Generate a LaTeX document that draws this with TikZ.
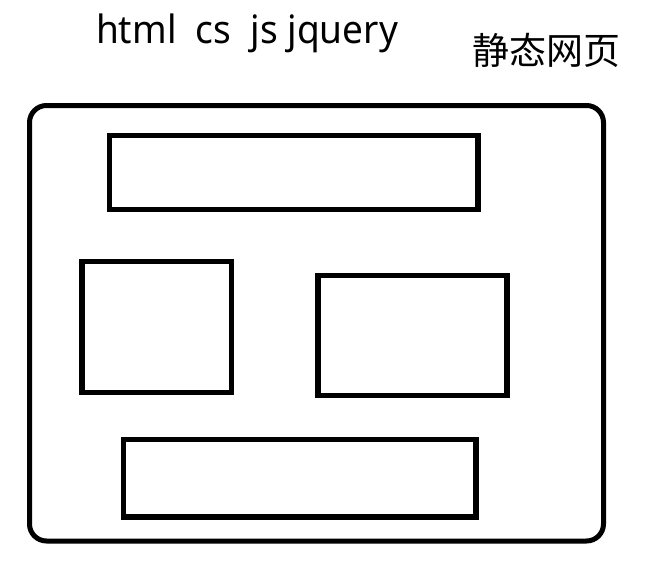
\documentclass[tikz,border=0pt]{standalone}
\usepackage{fontspec}
\setmainfont{Noto Sans}
\newfontfamily\cjk{Noto Sans CJK SC}
\begin{document}
\begin{tikzpicture}[x=0.75pt,y=-0.75pt,
  box/.style={draw=black,line width=4.1pt,rectangle,inner sep=0pt,outer sep=0pt},
  frame/.style={draw=black,line width=3.75pt,rectangle,rounded corners=12.75pt,inner sep=0pt,outer sep=0pt},
  lbl/.style={inner sep=0pt,outer sep=0pt}]
\useasboundingbox[fill=white] (0,0) rectangle (665,576);
\node[frame,minimum width=430.5pt,minimum height=326.625pt] (outer) at (316.5,323.25) {};
\node[box,minimum width=276.375pt,minimum height=55.5pt] (top) at (293.75,172.5) {};
\node[box,minimum width=112.125pt,minimum height=98.25pt] (left) at (156.75,327) {};
\node[box,minimum width=141.75pt,minimum height=90pt] (right) at (412.5,335.5) {};
\node[box,minimum width=264.375pt,minimum height=58.125pt] (bottom) at (299.75,478.25) {};
\node[lbl,anchor=base,font=\fontsize{29.25pt}{32pt}\selectfont] (tech) at (247,43) {\scalebox{0.95}[1]{html\ \ cs\ \ js jquery}};
\node[lbl,anchor=center,font=\cjk\fontsize{27.75pt}{30pt}\selectfont] (title) at (546,50) {静态网页};
\end{tikzpicture}
\end{document}
